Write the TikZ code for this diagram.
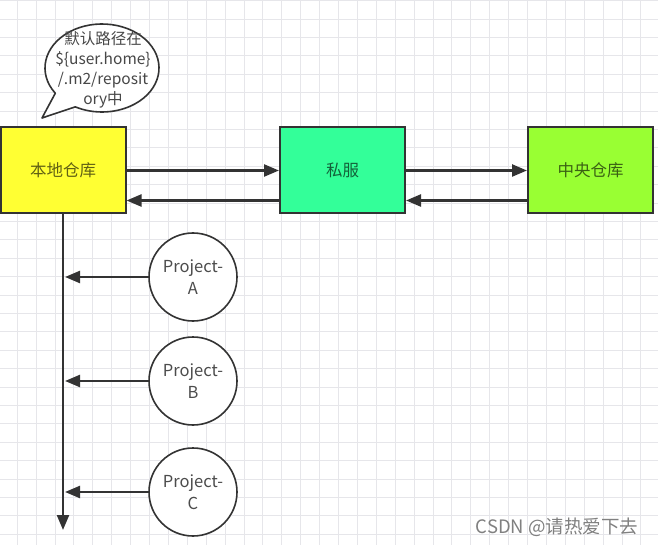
\documentclass[tikz,border=0pt]{standalone}
\usepackage{fontspec}
\setmainfont{Noto Sans CJK SC}
\usetikzlibrary{arrows.meta}
\definecolor{gridc}{RGB}{230,230,234}
\definecolor{linec}{RGB}{51,51,51}
\definecolor{yel}{RGB}{255,255,51}
\definecolor{teal}{RGB}{51,255,153}
\definecolor{lime}{RGB}{153,255,51}
\tikzset{
  box/.style={draw=linec,line width=2pt,minimum width=125pt,minimum height=86pt,inner sep=0pt,
    font=\fontsize{16.5}{18}\selectfont,text=black,text opacity=0.62},
  proj/.style={circle,draw=linec,line width=1.6pt,fill=white,minimum size=88pt,inner sep=0pt,
    align=center,font=\fontsize{16.5}{22}\selectfont,text=black!70},
  conn/.style={draw=linec,line width=2.4pt,-{Triangle[length=15pt,width=12pt]}},
}
\begin{document}
\begin{tikzpicture}[x=1pt,y=-1pt]
\useasboundingbox (0,0) rectangle (658,545);
\fill[white] (0,0) rectangle (658,545);
% grid
\foreach \i in {0,...,35} {\draw[gridc,line width=0.9pt] (17.2+18.9*\i,0) -- (17.2+18.9*\i,545);}
\foreach \j in {0,...,29} {\draw[gridc,line width=0.9pt] (0,0.7+18.4*\j) -- (658,0.7+18.4*\j);}
% boxes
\node[box,fill=yel] (local) at (63,170.5) {本地仓库};
\node[box,fill=teal] (sifu) at (342.5,170.5) {私服};
\node[box,fill=lime] (central) at (590.5,170.5) {中央仓库};
% horizontal connectors
\draw[conn] (local.east) -- (sifu.west);
\draw[conn] ([yshift=-30pt]sifu.west) -- ([yshift=-30pt]local.east);
\draw[conn] (sifu.east) -- (central.west);
\draw[conn] ([yshift=-30pt]central.west) -- ([yshift=-30pt]sifu.east);
% vertical line
\coordinate (bottom) at (63,530);
\draw[conn] (local.south) -- (bottom);
% projects
\node[proj] (pa) at (193,277) {Project-\\A};
\node[proj] (pb) at (193,381) {Project-\\B};
\node[proj] (pc) at (193,492) {Project-\\C};
\foreach \p in {pa,pb,pc} {\draw[conn] (\p.west) -- ([xshift=2pt]local.south |- \p.west);}
% speech bubble
\draw[linec,line width=1.6pt,fill=white,line join=round]
  ({102+57*cos(118)},{68+44*sin(118)}) -- (42,118) -- ({102+57*cos(145)},{68+44*sin(145)})
  arc[start angle=145,end angle=478,x radius=57,y radius=44] -- cycle;
\node[align=center,font=\fontsize{15.5}{20}\selectfont,text=black!72,inner sep=0pt] (note) at (103,70)
  {默认路径在\\\$\{user.home\}\\/.m2/reposit\\ory中};
% watermark
\node[font=\fontsize{18.5}{20}\selectfont,text=black!50,inner sep=0pt] (wm) at (557,527) {CSDN @请热爱下去};
\end{tikzpicture}
\end{document}
